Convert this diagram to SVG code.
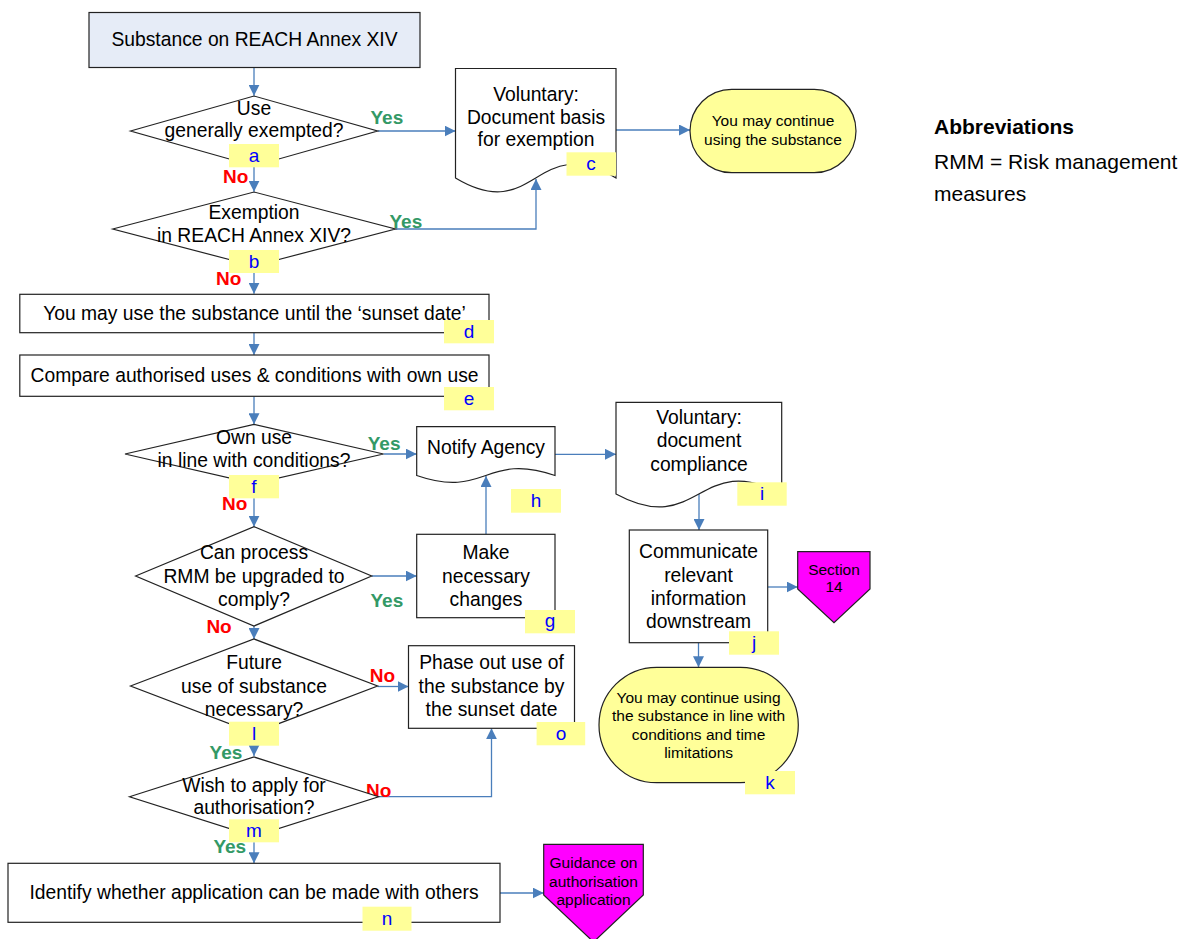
<svg xmlns="http://www.w3.org/2000/svg" width="1189" height="939" viewBox="0 0 1189 939">
<style>
  text { font-family: "Liberation Sans", Arial, sans-serif; fill: #000; }
  .t { font-size: 19.3px; text-anchor: middle; }
  .s { font-size: 15.5px; text-anchor: middle; }
  .shape { fill: #fff; stroke: #222; stroke-width: 1.2; }
  .term { fill: #FFFF99; stroke: #222; stroke-width: 1.2; }
  .mag { fill: #FF00FF; stroke: #222; stroke-width: 1.2; }
  .lbl { fill: #FFFF99; stroke: none; }
  .lt { font-size: 19px; fill: #0000FF; text-anchor: middle; }
  .conn { fill: none; stroke: #4A7EBB; stroke-width: 1.3; marker-end: url(#ah); }
  .yes { font-size: 19px; font-weight: bold; fill: #339966; }
  .no { font-size: 19px; font-weight: bold; fill: #FF0000; }
</style>
<defs>
  <marker id="ah" markerUnits="userSpaceOnUse" viewBox="0 0 10 10" refX="10" refY="5" markerWidth="11" markerHeight="11" orient="auto">
    <path d="M0,0 L10,5 L0,10 z" fill="#4A7EBB"/>
  </marker>
</defs>
<rect width="1189" height="939" fill="#fff"/>

<g id="connectors">
  <path class="conn" d="M254,67.7 V95.7"/>
  <path class="conn" d="M254,167 V191.7"/>
  <path class="conn" d="M377.6,131 H455.5"/>
  <path class="conn" d="M395.4,229 H536 V179"/>
  <path class="conn" d="M254,273 V293.8"/>
  <path class="conn" d="M616,130 H690"/>
  <path class="conn" d="M254,332.7 V355"/>
  <path class="conn" d="M254,396.3 V424.3"/>
  <path class="conn" d="M383.5,454 H416.7"/>
  <path class="conn" d="M254,498.3 V526.7"/>
  <path class="conn" d="M555,454.3 H616"/>
  <path class="conn" d="M371.7,576 H416.7"/>
  <path class="conn" d="M486,534.3 V476"/>
  <path class="conn" d="M699,494 V530"/>
  <path class="conn" d="M767.7,587 H797.7"/>
  <path class="conn" d="M698.5,642.7 V667.3"/>
  <path class="conn" d="M254,626 V639"/>
  <path class="conn" d="M377.6,686.5 H408.5"/>
  <path class="conn" d="M254,745.7 V756"/>
  <path class="conn" d="M378.6,796.7 H491.5 V728.3"/>
  <path class="conn" d="M254,842.3 V863.3"/>
  <path class="conn" d="M500,893 H543.7"/>
  <text class="yes" x="370.5" y="124">Yes</text>
  <text class="no" x="223" y="183">No</text>
  <text class="yes" x="389.5" y="228">Yes</text>
  <text class="no" x="216" y="285">No</text>
  <text class="yes" x="367.7" y="450">Yes</text>
  <text class="no" x="222" y="510">No</text>
  <text class="yes" x="370.5" y="606.7">Yes</text>
  <text class="no" x="206.4" y="633">No</text>
  <text class="no" x="369.7" y="681.7">No</text>
  <text class="yes" x="209.6" y="759.3">Yes</text>
  <text class="no" x="366" y="797.3">No</text>
  <text class="yes" x="213.4" y="853">Yes</text>
</g>

<g id="start">
  <rect x="89" y="12.5" width="331" height="55" fill="#E6ECF7" stroke="#222" stroke-width="1.2"/>
  <text class="t" x="254.5" y="46">Substance on REACH Annex XIV</text>
</g>

<g id="node-a">
  <polygon class="shape" points="130.5,131 254,96 377.6,131 254,166"/>
  <text class="t" x="254" y="115">Use</text>
  <text class="t" x="254" y="137">generally exempted?</text>
  <rect class="lbl" x="229" y="144" width="50" height="23.3"/>
  <text class="lt" x="254" y="162">a</text>
</g>

<g id="node-b">
  <polygon class="shape" points="112.7,229 254,192 395.4,229 254,266"/>
  <text class="t" x="254" y="219">Exemption</text>
  <text class="t" x="254" y="242">in REACH Annex XIV?</text>
  <rect class="lbl" x="229" y="250" width="50" height="23"/>
  <text class="lt" x="254" y="268">b</text>
</g>

<g id="node-c">
  <path class="shape" d="M455.5,68.5 H616 V178 C535.75,130 535.75,226 455.5,178 Z"/>
  <text class="t" x="536" y="100.7">Voluntary:</text>
  <text class="t" x="536" y="123.5">Document basis</text>
  <text class="t" x="536" y="146">for exemption</text>
  <rect class="lbl" x="566.5" y="152.3" width="49.5" height="23.4"/>
  <text class="lt" x="591" y="170">c</text>
</g>

<g id="continue">
  <rect class="term" x="690" y="89.3" width="166" height="83.4" rx="41.7" ry="41.7"/>
  <text class="s" x="773" y="125.7">You may continue</text>
  <text class="s" x="773" y="144.5">using the substance</text>
</g>

<g id="abbreviations">
  <text x="934" y="133.5" font-size="21" font-weight="bold">Abbreviations</text>
  <text x="934" y="168.5" font-size="21">RMM = Risk management</text>
  <text x="934" y="200.5" font-size="21">measures</text>
</g>

<g id="node-d">
  <rect class="shape" x="19.8" y="294.3" width="469.2" height="38.4"/>
  <text class="t" x="254.5" y="320">You may use the substance until the ‘sunset date’</text>
  <rect class="lbl" x="444" y="320" width="50" height="23.3"/>
  <text class="lt" x="469" y="338">d</text>
</g>

<g id="node-e">
  <rect class="shape" x="19.8" y="355" width="469.2" height="41.3"/>
  <text class="t" x="254.5" y="382.3">Compare authorised uses &amp; conditions with own use</text>
  <rect class="lbl" x="444" y="387" width="50" height="23.3"/>
  <text class="lt" x="469" y="405">e</text>
</g>

<g id="node-f">
  <polygon class="shape" points="125,454 254,424.3 383.5,454 254,483.7"/>
  <text class="t" x="254" y="444">Own use</text>
  <text class="t" x="254" y="467.3">in line with conditions?</text>
  <rect class="lbl" x="229" y="475" width="50" height="23.3"/>
  <text class="lt" x="254" y="493">f</text>
</g>

<g id="node-h">
  <path class="shape" d="M416.7,426.7 H555 V475.5 C485.85,451.5 485.85,499.5 416.7,475.5 Z"/>
  <text class="t" x="486" y="454">Notify Agency</text>
  <rect class="lbl" x="511" y="489" width="50" height="23.7"/>
  <text class="lt" x="536" y="507">h</text>
</g>

<g id="node-i">
  <path class="shape" d="M616,402.3 H781.7 V494 C698.85,449 698.85,539 616,494 Z"/>
  <text class="t" x="699" y="424">Voluntary:</text>
  <text class="t" x="699" y="447.3">document</text>
  <text class="t" x="699" y="470.7">compliance</text>
  <rect class="lbl" x="737.3" y="482.3" width="49.4" height="23.4"/>
  <text class="lt" x="762" y="500">i</text>
</g>

<g id="node-g">
  <rect class="shape" x="416.7" y="534.3" width="138.3" height="83.4"/>
  <text class="t" x="486" y="559">Make</text>
  <text class="t" x="486" y="582.5">necessary</text>
  <text class="t" x="486" y="606">changes</text>
  <rect class="lbl" x="525" y="610" width="50" height="23.3"/>
  <text class="lt" x="550" y="627">g</text>
</g>

<g id="node-rmm">
  <polygon class="shape" points="135.6,576 254,526.7 371.7,576 254,626"/>
  <text class="t" x="254" y="559">Can process</text>
  <text class="t" x="254" y="582.7">RMM be upgraded to</text>
  <text class="t" x="254" y="606">comply?</text>
</g>

<g id="node-j">
  <rect class="shape" x="629.3" y="530" width="138.4" height="112.7"/>
  <text class="t" x="698.5" y="558.3">Communicate</text>
  <text class="t" x="698.5" y="581.7">relevant</text>
  <text class="t" x="698.5" y="605">information</text>
  <text class="t" x="698.5" y="628.3">downstream</text>
  <rect class="lbl" x="729" y="631.3" width="50" height="23.4"/>
  <text class="lt" x="754" y="649">j</text>
</g>

<g id="section14">
  <polygon class="mag" points="797.7,551.7 870,551.7 870,589 834,622.7 797.7,589"/>
  <text class="s" x="834" y="575" font-size="15.3">Section</text>
  <text class="s" x="834" y="592.3" font-size="15.3">14</text>
</g>

<g id="node-l">
  <polygon class="shape" points="130.5,686 254,639 377.6,686 254,733"/>
  <text class="t" x="254" y="669.3">Future</text>
  <text class="t" x="254" y="692.6">use of substance</text>
  <text class="t" x="254" y="716">necessary?</text>
  <rect class="lbl" x="229" y="721.7" width="50" height="24"/>
  <text class="lt" x="254" y="740">l</text>
</g>

<g id="node-o">
  <rect class="shape" x="408.5" y="645.7" width="166" height="82.6"/>
  <text class="t" x="491.5" y="669.3">Phase out use of</text>
  <text class="t" x="491.5" y="692.6">the substance by</text>
  <text class="t" x="491.5" y="716">the sunset date</text>
  <rect class="lbl" x="536.6" y="722" width="48.6" height="23.3"/>
  <text class="lt" x="561" y="740">o</text>
</g>

<g id="node-k">
  <rect class="term" x="599" y="667.3" width="199.3" height="115.4" rx="57.7" ry="57.7"/>
  <text class="s" x="698.6" y="702.7">You may continue using</text>
  <text class="s" x="698.6" y="721.2">the substance in line with</text>
  <text class="s" x="698.6" y="739.7">conditions and time</text>
  <text class="s" x="698.6" y="758.3">limitations</text>
  <rect class="lbl" x="745" y="771" width="50" height="23.3"/>
  <text class="lt" x="770" y="789">k</text>
</g>

<g id="node-m">
  <polygon class="shape" points="129.5,796.7 254,757 378.6,796.7 254,836.4"/>
  <text class="t" x="254" y="792.3">Wish to apply for</text>
  <text class="t" x="254" y="814.3">authorisation?</text>
  <rect class="lbl" x="229" y="819.3" width="50" height="23"/>
  <text class="lt" x="254" y="837">m</text>
</g>

<g id="node-n">
  <rect class="shape" x="8" y="863.3" width="492" height="59"/>
  <text class="t" x="254" y="899">Identify whether application can be made with others</text>
  <rect class="lbl" x="362.5" y="906.7" width="49" height="24"/>
  <text class="lt" x="387" y="925">n</text>
</g>

<g id="guidance">
  <polygon class="mag" points="543.7,844.3 643.3,844.3 643.3,895 593.5,942 543.7,895"/>
  <text class="s" x="593.5" y="868" font-size="15.3">Guidance on</text>
  <text class="s" x="593.5" y="886.5" font-size="15.3">authorisation</text>
  <text class="s" x="593.5" y="905" font-size="15.3">application</text>
</g>
</svg>
